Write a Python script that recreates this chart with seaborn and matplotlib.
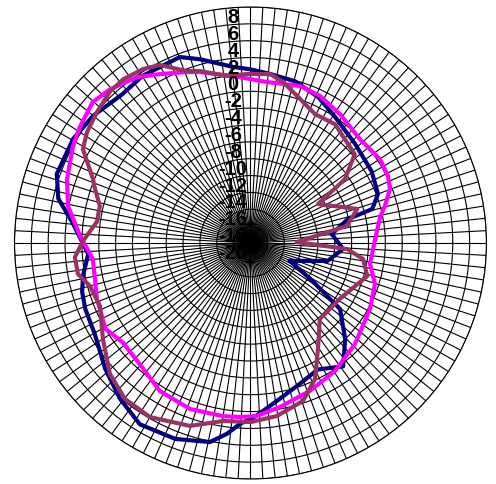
import numpy as np
import pandas as pd
import matplotlib
matplotlib.use('Agg')
import matplotlib.pyplot as plt
import matplotlib.transforms as mtransforms
import seaborn as sns

# angles in degrees (counter-clockwise from east), levels in dB
navy_deg = [6.3, 13.8, 15.6, 21, 30.6, 43.5, 56, 65.2, 74.6, 83.4, 90, 95.7, 105.3, 110.8, 114,
            122.8, 130.8, 141, 149.6, 160.4, 167, 173.3, 180, 183.9, 191.1, 196.2, 201.7, 210.3,
            220.9, 230, 238.6, 249, 258.5, 263, 266.7, 272, 280.7, 289.3, 298, 306.9, 314.6,
            323.6, 329, 335.5, 346.9, 356.3]
navy_db = [-10.3, -8.1, -5.0, -3.8, -3.3, -2.9, -2.0, -0.9, -0.1, 0.2, 0.6, 1.0, 2.6, 3.6, 3.5,
           3.6, 3.3, 4.0, 4.4, 4.4, 3.4, 1.3, -0.1, -0.7, 0.25, 0.8, 1.1, 1.4,
           2.8, 4.1, 5.2, 4.9, 4.1, 2.8, 1.5, 0.5, -1.2, -2.3, -3.0, -1.7, -4.0,
           -6.8, -11.7, -14.9, -10.6, -9.0]

magenta_deg = [1.8, 11.4, 15.4, 21.2, 26, 33, 43.5, 55, 64.7, 72.5, 84.1, 96, 106.5, 110.4,
               118.2, 124.4, 132.4, 138.2, 145.5, 151.3, 160.8, 168.5, 177.6, 185.8, 193, 200,
               203.7, 210.6, 218, 228, 238.6, 250, 261, 266.5, 272, 280.2, 292, 303.4, 316,
               331, 341.8, 350]
magenta_db = [-5.2, -4.3, -3.45, -2.25, -1.85, -1.7, -2.1, -1.4, -0.7, -0.47, -0.8, -0.08, 1.15, 1.64,
              2.74, 3.85, 4.7, 5.1, 4.5, 4.0, 3.05, 2.1, 0.24, -1.2, -1.06, -0.6,
              -0.5, 0.0, -0.8, -0.5, 0.6, 0.96, 0.8, 0.68, 0.54, -0.23, -1.1, -1.8, -2.76,
              -3.8, -4.45, -5.6]

mauve_deg = [1.2, 10, 17.7, 30, 34, 40.4, 54.6, 63.4, 72.4, 78.6, 83.4, 91.2, 98, 106.4, 110.3,
             117, 121.7, 127.9, 132.9, 139.5, 145.8, 150.7, 157.9, 160.8, 166.2, 172.2, 179.3,
             184.6, 190.2, 195, 202.7, 213, 223, 231.2, 240, 251.7, 261.2, 270.2, 278.7, 288.4,
             295.4, 302.5, 312.4, 328, 344.2, 351.9, 356.4]
mauve_db = [-14.5, -8.4, -6.7, -10.75, -6.5, -3.75, -2.7, -2.9, -1.7, -0.5, 0.18, 0.05, 0.0, 1.27, 1.75,
            3.7, 4.26, 4.6, 4.5, 3.94, 3.44, 2.8, 0.17, -0.47, -1.6, -1.6, -0.13,
            0.9, 0.8, -0.28, -0.64, 0.88, 2.8, 3.75, 3.85, 2.86, 1.37, 1.24, 0.76, -0.25,
            -2.14, -5.1, -7.8, -7.5, -5.6, -6.5, -8.5]

r_ticks = list(range(-20, 9, 2))
series = [("navy", navy_deg, navy_db, "#000080"),
          ("magenta", magenta_deg, magenta_db, "#ff00ff"),
          ("mauve", mauve_deg, mauve_db, "#993366")]

sns.set_style("white")
plt.rcParams['font.family'] = ['Liberation Sans', 'DejaVu Sans']
plt.rcParams['axes.unicode_minus'] = False

fig = plt.figure(figsize=(4.96, 4.85), dpi=100)
ax = fig.add_axes([0.0292, 0.0103, 0.9516, 0.9732], projection='polar')

for name, deg, db, col in series:
    # close the loop: last point is the first one a full turn later
    df = pd.DataFrame({"theta": np.deg2rad(deg + [deg[0] + 360]), "r": db + db[:1]})
    sns.lineplot(data=df, x="theta", y="r", sort=False, estimator=None, color=col,
                 linewidth=3, ax=ax, zorder=3)

ax.set_ylim(-20, 8)
ax.set_yticks(r_ticks)
ax.set_yticklabels([])
ax.set_xticks(np.deg2rad(np.arange(0, 360, 3)))
ax.set_xticklabels([])
ax.set_xlabel("")
ax.set_ylabel("")
ax.grid(True, color='black', linewidth=0.8)
ax.spines['polar'].set_color('black')
ax.spines['polar'].set_linewidth(0.8)

# value labels stacked up the vertical spoke, like the source chart
lbl_tr = mtransforms.offset_copy(ax.transData, fig=fig, x=-17.5, y=-15, units='dots')
for v in r_ticks:
    ax.text(np.pi / 2, v, str(v), transform=lbl_tr, ha='center', va='baseline',
            fontsize=14.5, fontweight='bold', color='black', zorder=5)

fig.savefig('out.png', dpi=100)
